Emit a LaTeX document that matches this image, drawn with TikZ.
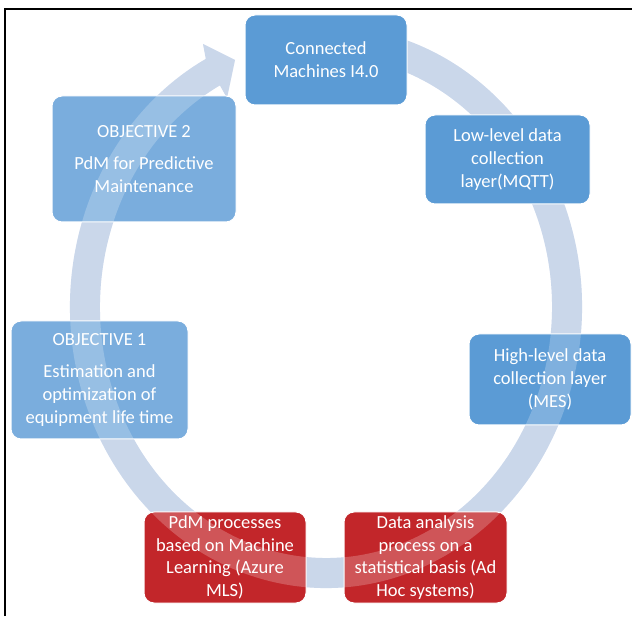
\documentclass[tikz,border=0pt]{standalone}
\usepackage{fontspec}
\setmainfont{Carlito}
\usetikzlibrary{calc}
\definecolor{boxblue}{RGB}{91,155,213}
\definecolor{objblue}{RGB}{122,173,221}
\definecolor{boxred}{RGB}{194,38,42}
\definecolor{ringblue}{RGB}{188,204,229}
\tikzset{
  stepbox/.style={rounded corners=10pt, draw=white, line width=1pt, text=white,
    align=center, inner sep=0pt, font=\fontsize{18.5}{22.7}\selectfont},
  bluebox/.style={stepbox, fill=boxblue},
  objbox/.style={stepbox, fill=objblue},
  redbox/.style={stepbox, fill=boxred},
  frameline/.style={line width=1.5pt, draw=black}
}
\begin{document}
\begin{tikzpicture}[x=1pt,y=1pt]
\useasboundingbox (0,0) rectangle (632,616);
\coordinate (c) at (326,309);
% circular arrow (base)
\fill[ringblue] ($(c)+(75:256pt and 281pt)$)
  arc[start angle=75, end angle=-242, x radius=256pt, y radius=281pt]
  -- (203,572) -- (235,556) -- (227,518)
  -- ($(c)+(118:226pt and 251pt)$)
  arc[start angle=118, end angle=435, x radius=226pt, y radius=251pt] -- cycle;
% boxes behind the arrow
\node[bluebox, minimum width=162pt, minimum height=91pt] (high) at (550,236.5)
  {High-level data\\collection layer\\(MES)};
\node[redbox, minimum width=163pt, minimum height=91pt] (data) at (425.5,58.5)
  {Data analysis\\process on a\\statistical basis (Ad\\Hoc systems)};
\node[redbox, minimum width=162pt, minimum height=91pt] (pdm) at (225,58.5)
  {PdM processes\\based on Machine\\Learning (Azure\\MLS)};
\node[objbox, minimum width=177pt, minimum height=118pt] (obj1) at (99.5,236)
  {OBJECTIVE 1\\[9pt]Estimation and\\optimization of\\equipment life time};
\node[objbox, minimum width=184pt, minimum height=126pt] (obj2) at (144,457)
  {OBJECTIVE 2\\[9pt]PdM for Predictive\\Maintenance};
% translucent arrow overlay
\fill[white, fill opacity=0.22] ($(c)+(75:256pt and 281pt)$)
  arc[start angle=75, end angle=-242, x radius=256pt, y radius=281pt]
  -- (203,572) -- (235,556) -- (227,518)
  -- ($(c)+(118:226pt and 251pt)$)
  arc[start angle=118, end angle=435, x radius=226pt, y radius=251pt] -- cycle;
% boxes in front of the arrow
\node[bluebox, minimum width=162pt, minimum height=90pt] (conn) at (326,556)
  {Connected\\Machines I4.0};
\node[bluebox, minimum width=165pt, minimum height=89pt] (low) at (507.5,456.5)
  {Low-level data\\collection\\layer(MQTT)};
% frame
\coordinate (fb) at (5,0);
\coordinate (ftl) at (5,607);
\coordinate (ftr) at (632,607);
\draw[frameline] (fb) -- (ftl) -- (ftr);
\end{tikzpicture}
\end{document}
